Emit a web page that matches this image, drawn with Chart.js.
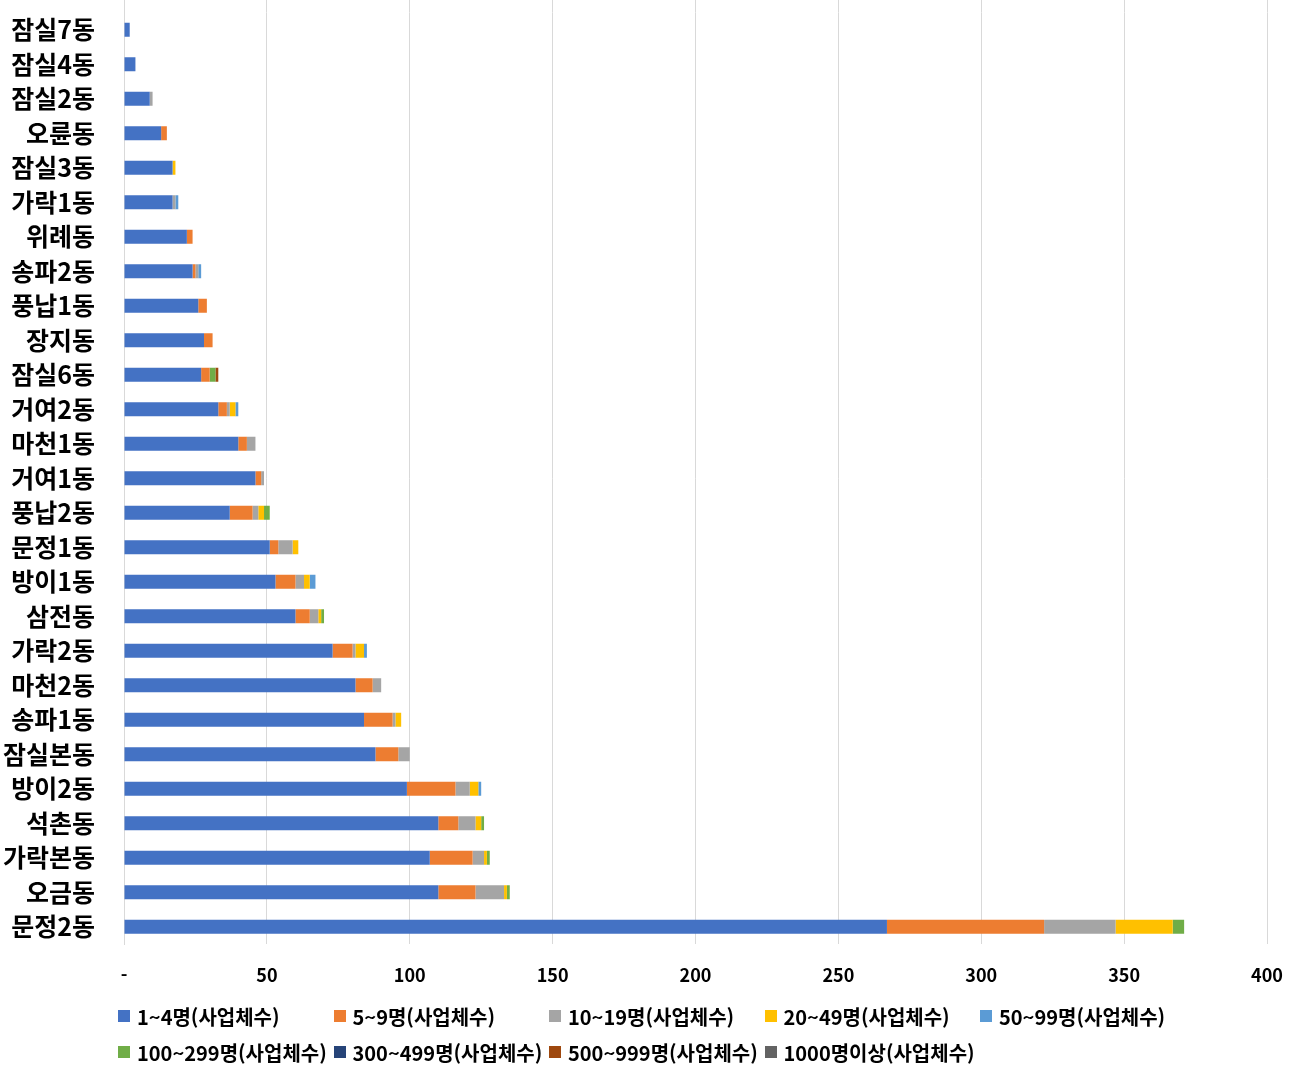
<!DOCTYPE html>
<html lang="ko">
<head>
<meta charset="utf-8">
<script src="https://cdn.jsdelivr.net/npm/chart.js@4"></script>
<style>
  body { margin: 0; background: #fff; }
  #wrap { position: relative; width: 1301px; height: 1071px; }
  #legend {
    position: absolute; left: 118px; top: 998px;
    display: grid; grid-template-columns: repeat(5, 215.5px); grid-auto-rows: 36px;
    font-family: "Noto Sans CJK KR", sans-serif; font-weight: bold; font-size: 20px; color: #000;
  }
  #legend .item { display: flex; align-items: center; white-space: nowrap; }
  #legend .box { width: 12px; height: 12px; margin-right: 7px; flex: none; }
</style>
</head>
<body>
<div id="wrap">
  <canvas id="chart" width="1301" height="1000"></canvas>
  <div id="legend"></div>
</div>
<script>
// 동별 사업체수 (종사자 규모별)
const dongs = ["잠실7동", "잠실4동", "잠실2동", "오륜동", "잠실3동", "가락1동", "위례동", "송파2동", "풍납1동",
  "장지동", "잠실6동", "거여2동", "마천1동", "거여1동", "풍납2동", "문정1동", "방이1동", "삼전동", "가락2동",
  "마천2동", "송파1동", "잠실본동", "방이2동", "석촌동", "가락본동", "오금동", "문정2동"];

const size1to4     = [2, 4, 9, 13, 17, 17, 22, 24, 26, 28, 27, 33, 40, 46, 37, 51, 53, 60, 73, 81, 84, 88, 99, 110, 107, 110, 267];
const size5to9     = [0, 0, 0, 2, 0, 0, 2, 1, 3, 3, 3, 3, 3, 2, 8, 3, 7, 5, 7, 6, 10, 8, 17, 7, 15, 13, 55];
const size10to19   = [0, 0, 1, 0, 0, 1, 0, 1, 0, 0, 0, 1, 3, 1, 2, 5, 3, 3, 1, 3, 1, 4, 5, 6, 4, 10, 25];
const size20to49   = [0, 0, 0, 0, 1, 0, 0, 0, 0, 0, 0, 2, 0, 0, 2, 2, 2, 1, 3, 0, 2, 0, 3, 2, 1, 1, 20];
const size50to99   = [0, 0, 0, 0, 0, 1, 0, 1, 0, 0, 0, 1, 0, 0, 0, 0, 2, 0, 1, 0, 0, 0, 1, 0, 0, 0, 0];
const size100to299 = [0, 0, 0, 0, 0, 0, 0, 0, 0, 0, 2, 0, 0, 0, 2, 0, 0, 1, 0, 0, 0, 0, 0, 1, 1, 1, 4];
const size300to499 = [0, 0, 0, 0, 0, 0, 0, 0, 0, 0, 0, 0, 0, 0, 0, 0, 0, 0, 0, 0, 0, 0, 0, 0, 0, 0, 0];
const size500to999 = [0, 0, 0, 0, 0, 0, 0, 0, 0, 0, 1, 0, 0, 0, 0, 0, 0, 0, 0, 0, 0, 0, 0, 0, 0, 0, 0];
const size1000plus = [0, 0, 0, 0, 0, 0, 0, 0, 0, 0, 0, 0, 0, 0, 0, 0, 0, 0, 0, 0, 0, 0, 0, 0, 0, 0, 0];

const xTicks = [0, 50, 100, 150, 200, 250, 300, 350, 400];

const seriesNames = ["1~4명(사업체수)", "5~9명(사업체수)", "10~19명(사업체수)", "20~49명(사업체수)", "50~99명(사업체수)",
  "100~299명(사업체수)", "300~499명(사업체수)", "500~999명(사업체수)", "1000명이상(사업체수)"];
const seriesData = [size1to4, size5to9, size10to19, size20to49, size50to99, size100to299, size300to499, size500to999, size1000plus];
const seriesColors = ["#4472C4", "#ED7D31", "#A5A5A5", "#FFC000", "#5B9BD5", "#70AD47", "#264478", "#9E480E", "#636363"];

const font = "'Noto Sans CJK KR', sans-serif";
const gridColor = "#d9d9d9";

// 세로 격자선을 캔버스 맨 위까지 연장 (Chart.js 격자선과 같은 픽셀 정렬)
const gridToTop = {
  id: "gridToTop",
  beforeDatasetsDraw(chart) {
    const { ctx, chartArea, scales } = chart;
    ctx.save();
    ctx.strokeStyle = gridColor;
    ctx.lineWidth = 1;
    ctx.beginPath();
    xTicks.forEach((v) => {
      const x = Math.round(scales.x.getPixelForValue(v) - 0.5) + 0.5;
      ctx.moveTo(x, 0);
      ctx.lineTo(x, chartArea.top);
    });
    ctx.stroke();
    ctx.restore();
  },
};

new Chart(document.getElementById("chart"), {
  type: "bar",
  data: {
    labels: dongs,
    datasets: seriesNames.map((name, i) => ({
      label: name,
      data: seriesData[i],
      backgroundColor: seriesColors[i],
      borderWidth: 0,
      categoryPercentage: 0.8,
      barPercentage: 0.507,
    })),
  },
  options: {
    indexAxis: "y",
    responsive: false,
    animation: false,
    layout: { padding: { top: 12, right: 34, left: 0, bottom: 0 } },
    plugins: {
      legend: { display: false },
      tooltip: { enabled: false },
    },
    scales: {
      x: {
        stacked: true,
        min: 0,
        max: 400,
        afterBuildTicks: (scale) => { scale.ticks = xTicks.map((v) => ({ value: v })); },
        afterFit: (scale) => { scale.height = 56; },
        ticks: {
          color: "#000",
          font: { family: font, size: 18, weight: "bold" },
          padding: 0,
          callback: (v) => (v === 0 ? "-" : v),
        },
        // 눈금 표시는 투명하게 두고 라벨 간격만 확보
        grid: { color: gridColor, drawTicks: true, tickLength: 20, tickColor: "rgba(0,0,0,0)" },
        border: { display: false },
      },
      y: {
        stacked: true,
        afterFit: (scale) => { scale.width = 124; },
        ticks: {
          color: "#000",
          font: { family: font, size: 25, weight: "bold", lineHeight: 1 },
          padding: 0,
        },
        grid: { display: false, drawTicks: true, tickLength: 29 },
        border: { display: true, color: gridColor },
      },
    },
  },
  plugins: [gridToTop],
});

// 범례 (엑셀식 격자 배치)
const legendEl = document.getElementById("legend");
seriesNames.forEach((name, i) => {
  const item = document.createElement("div");
  item.className = "item";
  const box = document.createElement("span");
  box.className = "box";
  box.style.background = seriesColors[i];
  item.appendChild(box);
  item.appendChild(document.createTextNode(name));
  legendEl.appendChild(item);
});
</script>
</body>
</html>
